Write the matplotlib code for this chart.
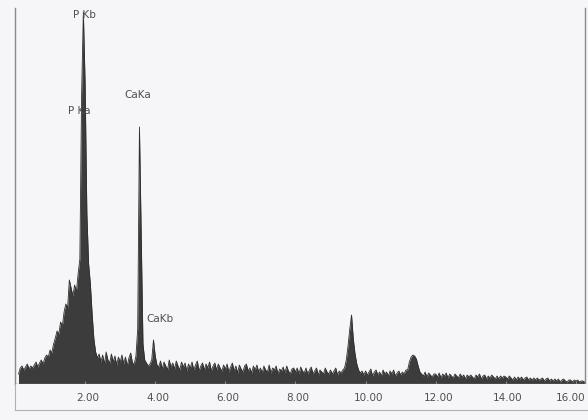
import numpy as np
import matplotlib
matplotlib.use("Agg")
import matplotlib.pyplot as plt

# EDS spectrum, counts (0.05 keV channels starting at 0.10 keV)
start_kev = 0.10
step_kev = 0.05
counts = [
    10, 16, 18, 14, 17, 20, 15, 18, 16, 19, 22, 17, 21, 24, 20, 26, 29, 27,           # 0.10-0.95
    34, 31, 40, 46, 53, 50, 62, 58, 72, 80, 76, 104, 96, 88, 99, 92, 110, 125, 290, 372,  # 1
    300, 170, 120, 100, 70, 45, 32, 26, 30, 22, 29, 20, 32, 24, 21, 30, 22, 28, 19, 27,   # 2
    22, 29, 20, 27, 18, 26, 31, 21, 20, 28, 55, 257, 150, 40, 24, 21, 18, 20, 24, 44,     # 3
    28, 19, 17, 23, 15, 22, 18, 14, 24, 17, 21, 15, 23, 18, 14, 22, 17, 21, 13, 20,       # 4
    16, 22, 14, 19, 23, 13, 18, 21, 14, 20, 16, 22, 13, 18, 21, 14, 20, 16, 13, 19,       # 5
    15, 20, 12, 17, 21, 13, 18, 11, 19, 15, 12, 18, 20, 13, 16, 11, 18, 14, 19, 12,       # 6
    16, 11, 18, 14, 12, 19, 11, 16, 14, 18, 10, 15, 13, 17, 11, 18, 13, 10, 15, 16,       # 7
    12, 16, 10, 17, 13, 11, 16, 10, 14, 17, 10, 13, 16, 9, 14, 12, 10, 16, 12, 10,        # 8
    14, 10, 13, 16, 9, 13, 11, 14, 16, 24, 38, 55, 69, 45, 30, 20, 14, 11, 13, 9,         # 9
    13, 9, 12, 15, 8, 12, 14, 9, 12, 8, 14, 10, 12, 8, 13, 10, 14, 8, 11, 13,             # 10
    9, 12, 10, 14, 14, 22, 27, 29, 28, 25, 18, 12, 10, 8, 12, 7, 11, 9, 7, 10,            # 11
    10, 7, 11, 6, 10, 8, 11, 6, 10, 8, 6, 10, 8, 6, 10, 7, 9, 5, 9, 7,                    # 12
    9, 7, 5, 9, 7, 10, 5, 8, 9, 5, 8, 6, 9, 7, 5, 8, 5, 8, 6, 8,                          # 13
    7, 5, 8, 6, 4, 7, 4, 7, 5, 7, 4, 6, 7, 4, 6, 4, 6, 4, 6, 4,                           # 14
    5, 6, 3, 5, 6, 3, 5, 3, 5, 3, 5, 2, 4, 5, 3, 2, 4, 4, 2, 4,                           # 15
    3, 4, 2, 3, 3, 2,                                                                     # 16
]
energy = start_kev + step_kev * np.arange(len(counts))

# peak labels: (text, x keV, y counts)
peak_labels = [
    ("P Kb", 1.66, 364),
    ("P Ka", 1.52, 268),
    ("CaKa", 3.13, 284),
    ("CaKb", 3.75, 60),
]
tick_vals = [2, 4, 6, 8, 10, 12, 14, 16]
tick_labels = ["%.2f" % t for t in tick_vals]
tick_shift = [0.08, 0.08, 0.08, 0.08, 0.08, 0.08, 0.05, -0.15]

paper = "#f6f5f7"
ink = "#3c3c3c"
frame = "#8a8a8a"

fig = plt.figure(figsize=(5.88, 4.2), dpi=100, facecolor=paper)

# spectrum panel
ax = fig.add_axes([15 / 588, 1 - 384 / 420, 570 / 588, 376 / 420])
ax.set_facecolor(paper)
ax.fill_between(energy, 0, counts, color=ink, lw=0)
ax.plot(energy, counts, color="#2e2e2e", lw=0.6)
ax.set_xlim(0, 16.26)
ax.set_ylim(0, 376)
ax.set_xticks(tick_vals)
ax.set_xticklabels([])
ax.set_yticks([])
ax.tick_params(axis="x", direction="inout", length=5, width=0.8, color=frame)
ax.spines["top"].set_visible(False)
for s in ["left", "right", "bottom"]:
    ax.spines[s].set_color(frame)
    ax.spines[s].set_linewidth(1.0)

for txt, x, y in peak_labels:
    ax.text(x, y, txt, fontsize=7.5, color="#505050", ha="left", va="bottom")

# strip with the energy labels under the axis
ax2 = fig.add_axes([15 / 588, 1 - 410 / 420, 573 / 588, 26 / 420])
ax2.set_facecolor(paper)
ax2.set_xlim(0, 16.26 * 573 / 570)
ax2.set_ylim(0, 1)
ax2.set_xticks([])
ax2.set_yticks([])
ax2.spines["top"].set_visible(False)
ax2.spines["right"].set_visible(False)
for s in ["left", "bottom"]:
    ax2.spines[s].set_color("#b0b0b0")
for t, lab, dx in zip(tick_vals, tick_labels, tick_shift):
    ax2.text(t + dx, 0.45, lab, fontsize=7.5, color="#505050", ha="center", va="center",
             clip_on=False)

fig.savefig("out.png", dpi=100, facecolor=paper)
